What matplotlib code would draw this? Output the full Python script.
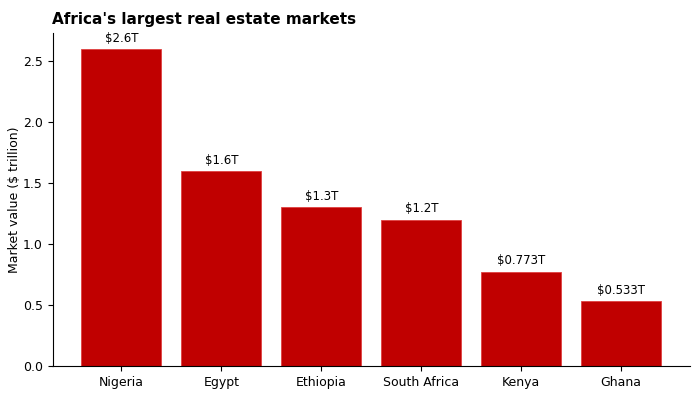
import matplotlib
matplotlib.use('Agg')
import matplotlib.pyplot as plt

countries = ['Nigeria', 'Egypt', 'Ethiopia', 'South Africa', 'Kenya', 'Ghana']
values = [2.6, 1.6, 1.3, 1.2, 0.773, 0.533]
labels = ['$2.6T', '$1.6T', '$1.3T', '$1.2T', '$0.773T', '$0.533T']

fig, ax = plt.subplots(figsize=(7, 4), dpi=100)
fig.subplots_adjust(left=0.075, right=0.986, top=0.918, bottom=0.085)

bars = ax.bar(countries, values, width=0.8, color='#c00000',
              edgecolor='#e04040', linewidth=0.6)
for bar, lab in zip(bars, labels):
    ax.annotate(lab.replace('$', r'\$'), (bar.get_x() + bar.get_width() / 2, bar.get_height()),
                xytext=(0, 3), textcoords='offset points',
                ha='center', va='bottom', fontsize=8.5)

ax.set_title("Africa's largest real estate markets", loc='left',
             fontsize=11, fontweight='bold')
ax.set_ylabel('Market value ($ trillion)', fontsize=9, labelpad=1)
ax.tick_params(labelsize=9)
ax.spines['top'].set_visible(False)
ax.spines['right'].set_visible(False)

fig.savefig('out.png')
